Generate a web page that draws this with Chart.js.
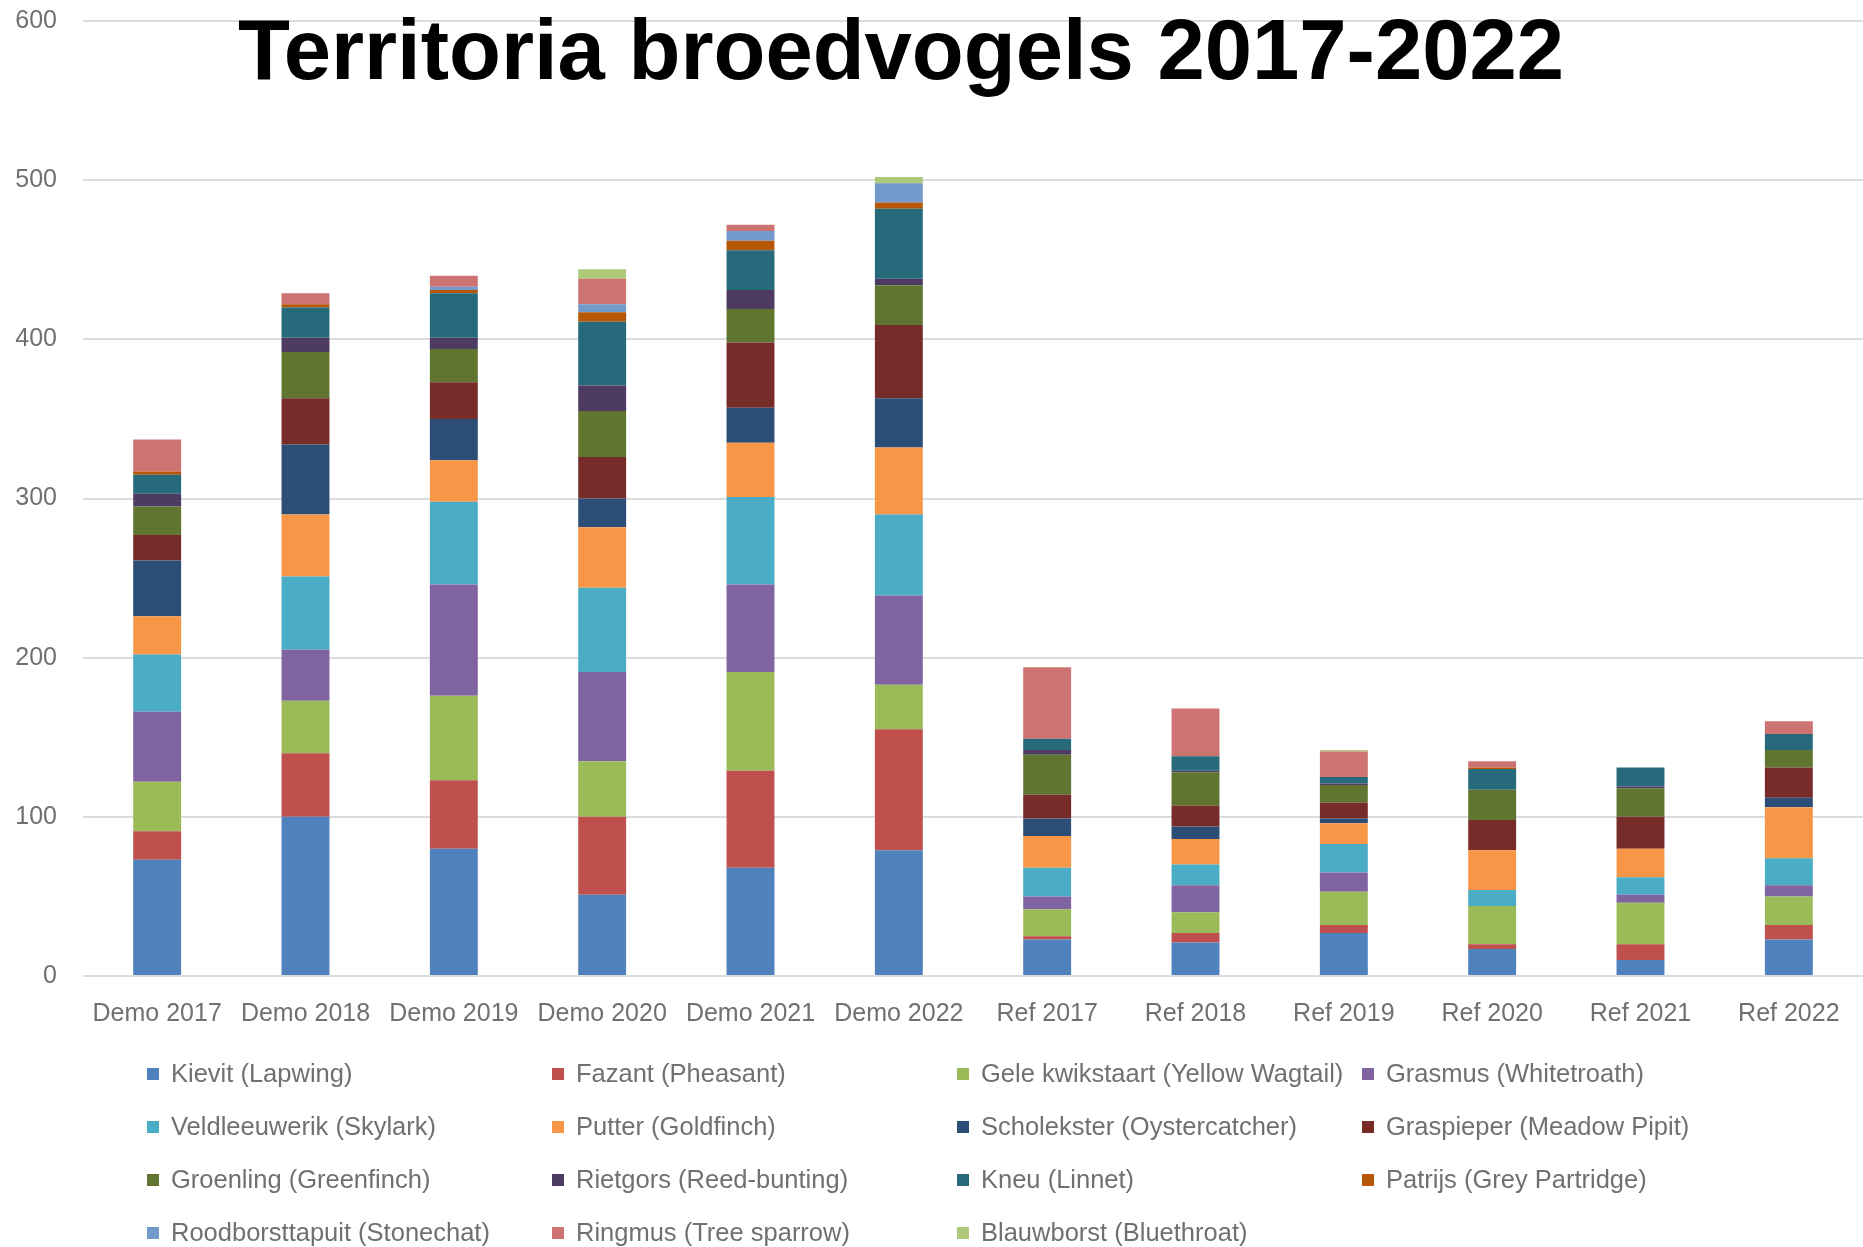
<!DOCTYPE html>
<html>
<head>
<meta charset="utf-8">
<script src="https://cdn.jsdelivr.net/npm/chart.js@4.4.0/dist/chart.umd.min.js"></script>
<style>
    html, body { margin: 0; padding: 0; background: #fff; }
    #wrap { position: relative; width: 1863px; height: 1247px; }
    #chart { position: absolute; left: 0; top: 0; }
    #title {
        position: absolute; left: 0; top: 7px; width: 1802px;
        text-align: center; font: bold 85px/85px "Liberation Sans", Arial, sans-serif;
        color: #000;
    }
    #legend {
        position: absolute; left: 147px; top: 1047px;
        display: grid; grid-template-columns: 405px 405px 405px 405px;
        font: 25.5px "Liberation Sans", Arial, sans-serif; color: #707070;
    }
    .legend__item { display: flex; align-items: center; height: 53px; white-space: nowrap; }
    .legend__box { width: 12px; height: 12px; margin-right: 12px; flex: none; }
</style>
</head>
<body>
<div id="wrap">
    <canvas id="chart" width="1863" height="1247"></canvas>
    <div id="title">Territoria broedvogels 2017-2022</div>
    <div id="legend"></div>
</div>
<script>
const categories = ["Demo 2017", "Demo 2018", "Demo 2019", "Demo 2020", "Demo 2021", "Demo 2022",
    "Ref 2017", "Ref 2018", "Ref 2019", "Ref 2020", "Ref 2021", "Ref 2022"];

const yTicks = [0, 100, 200, 300, 400, 500, 600];

// territories per species, bottom of the stack first
const kievit          = [73, 100, 80, 51, 68, 79, 23, 21, 27, 17, 10, 23];
const fazant          = [18, 40, 43, 49, 61, 76, 2, 6, 5, 3, 10, 9];
const geleKwikstaart  = [31, 33, 53, 35, 62, 28, 17, 13, 21, 24, 26, 18];
const grasmus         = [44, 32, 70, 56, 55, 56, 8, 17, 12, 0, 5, 7];
const veldleeuwerik   = [36, 46, 52, 53, 55, 51, 18, 13, 18, 10, 11, 17];
const putter          = [24, 39, 26, 38, 34, 42, 20, 16, 13, 25, 18, 32];
const scholekster     = [35, 44, 26, 18, 22, 31, 11, 8, 3, 0, 0, 6];
const graspieper      = [16, 29, 23, 26, 41, 46, 15, 13, 10, 19, 20, 19];
const groenling       = [18, 29, 21, 29, 21, 25, 25, 21, 11, 19, 18, 11];
const rietgors        = [8, 9, 7, 16, 12, 4, 3, 1, 1, 0, 1, 0];
const kneu            = [12, 19, 28, 40, 25, 44, 7, 9, 4, 13, 12, 10];
const patrijs         = [2, 2, 2, 6, 6, 4, 0, 0, 0, 1, 0, 0];
const roodborsttapuit = [0, 0, 2, 5, 6, 12, 0, 0, 0, 0, 0, 0];
const ringmus         = [20, 7, 7, 16, 4, 0, 45, 30, 16, 4, 0, 8];
const blauwborst      = [0, 0, 0, 6, 0, 4, 0, 0, 1, 0, 0, 0];

const species = [
    ["Kievit (Lapwing)", kievit, "#4F81BD"],
    ["Fazant (Pheasant)", fazant, "#C0504D"],
    ["Gele kwikstaart (Yellow Wagtail)", geleKwikstaart, "#9BBB59"],
    ["Grasmus (Whitetroath)", grasmus, "#8064A2"],
    ["Veldleeuwerik (Skylark)", veldleeuwerik, "#4BACC6"],
    ["Putter (Goldfinch)", putter, "#F79646"],
    ["Scholekster (Oystercatcher)", scholekster, "#2C4D75"],
    ["Graspieper (Meadow Pipit)", graspieper, "#772C2A"],
    ["Groenling (Greenfinch)", groenling, "#5F7530"],
    ["Rietgors (Reed-bunting)", rietgors, "#4D3B62"],
    ["Kneu (Linnet)", kneu, "#276A7C"],
    ["Patrijs (Grey Partridge)", patrijs, "#B65708"],
    ["Roodborsttapuit (Stonechat)", roodborsttapuit, "#729ACA"],
    ["Ringmus (Tree sparrow)", ringmus, "#CD7371"],
    ["Blauwborst (Bluethroat)", blauwborst, "#AFC97A"]
];

const textColor = "#707070";
const tickFont = { family: "'Liberation Sans', Arial, sans-serif", size: 25 };

const ctx = document.querySelector("#chart").getContext("2d");

let chart = new Chart(ctx, {
    type: "bar",
    data: {
        labels: categories,
        datasets: species.map(function(s){
            return {
                label: s[0],
                data: s[1],
                backgroundColor: s[2],
                borderWidth: 0,
                barPercentage: 0.323,
                categoryPercentage: 1
            };
        })
    },
    options: {
        responsive: false,
        animation: false,
        devicePixelRatio: 1,
        layout: { padding: { top: 21, right: 0, bottom: 191, left: 0 } },
        plugins: {
            legend: { display: false },
            tooltip: { enabled: false }
        },
        scales: {
            x: {
                stacked: true,
                grid: { display: false },
                border: { display: false },
                ticks: { color: textColor, font: tickFont, padding: 15, maxRotation: 0 },
                afterFit: function(scale){ scale.height = 80; }
            },
            y: {
                stacked: true,
                min: yTicks[0],
                max: yTicks[yTicks.length - 1],
                grid: { color: "#dcdcdc", lineWidth: 2, drawTicks: false },
                border: { display: false },
                ticks: { stepSize: yTicks[1] - yTicks[0], color: textColor, font: tickFont, padding: 26 },
                afterFit: function(scale){
                    scale.width = 83;
                    // top tick label may stick out above the plot, the title covers that area anyway
                    scale.paddingTop = 0;
                    scale.paddingBottom = 0;
                }
            }
        }
    }
});

// legend as a fixed 4 column grid like the spreadsheet one
const legendDiv = document.querySelector("#legend");
chart.data.datasets.forEach(function(ds){
    const item = document.createElement("div");
    item.className = "legend__item";
    const box = document.createElement("span");
    box.className = "legend__box";
    box.style.background = ds.backgroundColor;
    item.appendChild(box);
    item.appendChild(document.createTextNode(ds.label));
    legendDiv.appendChild(item);
});
</script>
</body>
</html>
